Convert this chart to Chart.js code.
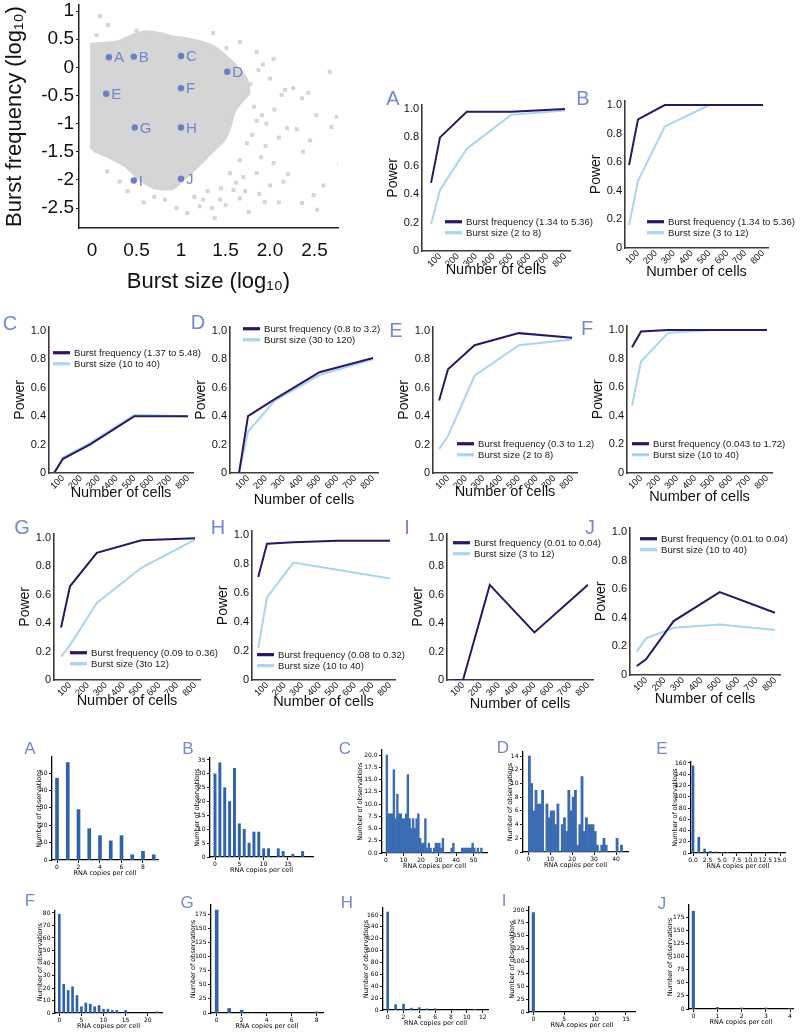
<!DOCTYPE html>
<html>
<head>
<meta charset="utf-8">
<script src="https://cdn.jsdelivr.net/npm/chart.js@4.4.0/dist/chart.umd.min.js"></script>
<style>
  body { margin: 0; background: #fff; }
  #page { position: relative; width: 800px; height: 1033px; overflow: hidden; background: #fff; }
  #page canvas { position: absolute; }
  .tag { position: absolute; color: #7689cf; transform: translate(-50%, -50%); line-height: 1;
         font-family: "Liberation Sans", Arial, sans-serif; }
</style>
</head>
<body>
<div id="page"></div>
<script>
// ---------- scatter: burst size vs burst frequency ----------
const cloudSize = [-0.02, 0.29, 0.46, 0.61, 0.76, 0.91, 1.06, 1.21, 1.36, 1.51, 1.66, 1.74, 1.76, 1.66,
                   1.59, 1.55, 1.48, 1.36, 1.25, 1.14, 1.02, 0.91, 0.72, 0.54, 0.39, 0.20, 0.05, -0.02];
const cloudFreq = [0.41, 0.455, 0.57, 0.63, 0.60, 0.54, 0.51, 0.455, 0.37, 0.19, -0.05, -0.22, -0.46, -0.64,
                   -0.82, -1.06, -1.30, -1.48, -1.66, -1.83, -2.00, -2.15, -2.15, -2.00, -1.77, -1.60, -1.50, -1.41];
const straySize = [0.09, 0.18, 0.05, 0.50, 1.36, 1.85, 2.04, 1.87, 2.67, 2.17, 2.26, 2.13, 2.36, 2.75, 2.52,
                   2.69, 2.19, 1.91, 1.96, 2.37, 2.04, 2.15, 1.94, 1.76, 2.36, 2.49, 2.53, 1.38, 0.58, 0.31,
                   0.17, 1.59, 1.66, 1.44, 1.21, 1.07, 0.95, 2.78, 1.66, 1.74, 1.55, 1.85, 1.51, 1.66,
                   1.80, 1.70, 1.62, 1.90, 2.00, 1.45, 1.30, 1.82, 1.78, 2.10, 1.25, 0.82, 0.70, 2.30, 2.43,
                   1.92, 2.00, 1.85, 2.05, 1.95, 2.20, 1.72, 1.50, 1.35, 1.15, 0.40, 2.60, 2.45, 1.88, 2.10];
const strayFreq = [0.91, 0.75, 0.57, 0.65, 0.61, 0.27, 0.15, -0.05, -0.08, -0.40, -0.37, -0.49, -0.55, -0.88, -0.85,
                   -1.06, -1.08, -0.85, -1.00, -1.50, -1.70, -2.03, -2.39, -2.57, -2.41, -2.27, -2.53, -2.68, -2.40, -2.03,
                   -1.85, -2.18, -2.33, -2.35, -2.47, -2.59, -2.50, -1.70, -1.65, -1.35, -1.88, -1.88, 0.34, 0.45,
                   -1.20, -1.95, -2.05, -1.60, -2.10, -2.15, -2.20, -0.70, -0.30, -1.25, -2.35, -2.35, -2.30, -1.10, -0.45,
                   0.05, -0.20, -0.95, -0.75, -1.40, -1.90, -2.20, -2.45, -2.50, -2.30, -2.20, -2.10, -1.30, -2.25, -2.40];
const geneTags = ['A', 'B', 'C', 'D', 'E', 'F', 'G', 'H', 'I', 'J'];
const geneSize = [0.19, 0.47, 1.00, 1.52, 0.16, 1.00, 0.48, 1.00, 0.47, 1.00];
const geneFreq = [0.18, 0.19, 0.20, -0.08, -0.47, -0.37, -1.07, -1.07, -2.01, -1.98];
const sizeTicks = [0, 0.5, 1, 1.5, 2, 2.5];
const sizeTickLabels = ['0', '0.5', '1', '1.5', '2.0', '2.5'];
const freqTicks = [1, 0.5, 0, -0.5, -1, -1.5, -2, -2.5];
const freqTickLabels = ['1', '0.5', '0', '-0.5', '-1', '-1.5', '-2', '-2.5'];

// ---------- power curves ----------
const cellCounts = [50, 100, 250, 500, 800];
const cellTicks = [100, 200, 300, 400, 500, 600, 700, 800];
const powerTicks = [0, 0.2, 0.4, 0.6, 0.8, 1.0];
const powerTickLabels = ['0', '0.2', '0.4', '0.6', '0.8', '1.0'];

const powerFreqA = [0.48, 0.80, 0.98, 0.98, 1.00];
const powerSizeA = [0.19, 0.43, 0.72, 0.96, 0.99];
const powerFreqB = [0.58, 0.90, 1.00, 1.00, 1.00];
const powerSizeB = [0.16, 0.47, 0.85, 1.00, 1.00];
const powerFreqC = [0.00, 0.10, 0.20, 0.40, 0.40];
const powerSizeC = [0.00, 0.11, 0.21, 0.41, 0.40];
const powerFreqD = [0.00, 0.40, 0.52, 0.71, 0.81];
const powerSizeD = [0.00, 0.29, 0.51, 0.69, 0.80];
const powerFreqE = [0.51, 0.73, 0.90, 0.985, 0.953];
const powerSizeE = [0.17, 0.26, 0.685, 0.90, 0.94];
const powerFreqF = [0.88, 0.99, 1.00, 1.00, 1.00];
const powerSizeF = [0.47, 0.78, 0.98, 1.00, 1.00];
const powerFreqG = [0.37, 0.66, 0.895, 0.984, 0.998];
const powerSizeG = [0.164, 0.246, 0.543, 0.79, 0.988];
const powerFreqH = [0.71, 0.94, 0.95, 0.96, 0.96];
const powerSizeH = [0.22, 0.57, 0.81, 0.76, 0.70];
const powerFreqI = [0.00, 0.00, 0.67, 0.335, 0.67];
const powerSizeI = [null, null, null, null, null];
const powerFreqJ = [0.063, 0.11, 0.377, 0.58, 0.435];
const powerSizeJ = [0.163, 0.256, 0.33, 0.353, 0.314];

const freqRanges = ['1.34 to 5.36', '1.34 to 5.36', '1.37 to 5.48', '0.8 to 3.2', '0.3 to 1.2',
                    '0.043 to 1.72', '0.09 to 0.36', '0.08 to 0.32', '0.01 to 0.04', '0.01 to 0.04'];
const sizeRanges = ['2 to 8', '3 to 12', '10 to 40', '30 to 120', '2 to 8',
                    '10 to 40', '3to 12', '10 to 40', '3 to 12', '10 to 40'];

// ---------- RNA copy histograms ----------
const copiesA = [0, 1, 2, 3, 4, 5, 6, 7, 8, 9];
const countsA = [47, 56, 29, 18, 14, 11, 14, 3, 5, 3];
const copiesB = [0, 1, 2, 3, 4, 5, 6, 7, 8, 9, 10, 11, 13, 14, 16, 18];
const countsB = [30, 34, 25, 20, 32, 12, 10, 5, 9, 9, 3, 3, 3, 2, 1, 2];
const binsC = [0, 1, 2, 3, 4, 5, 6, 7, 8, 9, 10, 11, 12, 13, 14, 15, 16, 17, 18, 19, 20, 21, 22, 23, 24, 25, 26, 27,
               28, 29, 30, 31, 32, 33, 34, 35, 36, 37, 38, 39, 40, 41, 42, 43, 44, 45, 46, 47, 48, 49, 50, 51, 52, 53, 54];
const countsC = [20, 8, 8, 8, 17, 7, 12, 8, 8, 7, 7, 8, 16, 7, 5, 7, 5, 7, 8, 3, 2, 2, 7, 1, 2, 1, 0, 1,
                 2, 2, 2, 1, 3, 0, 0, 0, 0, 1, 2, 0, 0, 0, 0, 1, 1, 1, 1, 1, 1, 2, 1, 0, 1, 0, 1];
const binsD = [0, 1, 2, 3, 4, 5, 6, 7, 8, 9, 10, 11, 12, 13, 14, 15, 16, 17, 18, 19, 20, 21,
               22, 23, 24, 25, 26, 27, 28, 29, 30, 31, 32, 33, 34, 35, 36, 37, 38, 39, 40, 41, 42];
const countsD = [14, 10, 6, 9, 7, 7, 9, 0, 7, 5, 6, 6, 4, 7, 0, 4, 5, 3, 9, 6, 8, 9,
                 1, 4, 11, 3, 5, 4, 4, 4, 3, 1, 0, 1, 2, 1, 0, 0, 0, 0, 2, 0, 1];
const copiesE = [0, 1, 2, 3, 4, 5, 6, 15];
const countsE = [155, 28, 7, 3, 2, 1, 1, 1];
const copiesF = [0, 1, 2, 3, 4, 5, 6, 7, 8, 9, 10, 11, 12, 13, 15, 22];
const countsF = [79, 23, 18, 21, 14, 5, 8, 7, 5, 6, 3, 3, 2, 2, 2, 1];
const copiesG = [0, 1, 2, 8];
const countsG = [182, 8, 5, 2];
const copiesH = [0, 1, 2, 3, 4, 5, 6, 11];
const countsH = [165, 9, 10, 3, 4, 2, 2, 1];
const copiesI = [0];
const countsI = [195];
const copiesJ = [0, 1, 2, 3, 4];
const countsJ = [186, 3, 2, 2, 1];

const histXTicks = {
  A: [0, 2, 4, 6, 8], B: [0, 5, 10, 15], C: [0, 10, 20, 30, 40, 50], D: [0, 10, 20, 30, 40],
  E: [0, 2.5, 5, 7.5, 10, 12.5, 15], F: [0, 5, 10, 15, 20], G: [0, 2, 4, 6, 8],
  H: [0, 2, 4, 6, 8, 10, 12], I: [0, 5, 10, 15], J: [0, 1, 2, 3, 4]
};
const histYTicks = {
  A: [0, 10, 20, 30, 40, 50], B: [0, 5, 10, 15, 20, 25, 30, 35],
  C: [0, 2.5, 5, 7.5, 10, 12.5, 15, 17.5, 20], D: [0, 2, 4, 6, 8, 10, 12, 14],
  E: [0, 20, 40, 60, 80, 100, 120, 140, 160], F: [0, 10, 20, 30, 40, 50, 60, 70, 80],
  G: [0, 25, 50, 75, 100, 125, 150, 175], H: [0, 20, 40, 60, 80, 100, 120, 140, 160],
  I: [0, 25, 50, 75, 100, 125, 150, 175, 200], J: [0, 25, 50, 75, 100, 125, 150, 175]
};
const oneDecimalX = ['E'];
const oneDecimalY = ['C'];

// ---------- layout (page pixels) ----------
const FONT = '"Liberation Sans", Arial, Helvetica, sans-serif';
const HFONT = '"DejaVu Sans", Verdana, sans-serif';
const DARK = '#2b1862';
const LIGHT = '#abd5ee';
const BAR = '#2f62ad';

// tag, axis x, y of 1.0, x of 800, y of 0, x of 100, key dx, key dy, title gap
const powerLayout = [
  ['A', 422, 109, 565, 251, 440, 23, 117, 19],
  ['B', 625, 105, 763, 248, 638, 22, 121, 24],
  ['C', 49, 331, 188, 473, 63, 4, 26, 20],
  ['D', 230, 331, 373, 473, 248, 13, 2, 27],
  ['E', 433, 331, 572, 473, 448, 24, 117, 19],
  ['F', 627, 330, 767, 473, 641, 5, 118, 24],
  ['G', 54, 538, 195, 680, 70, 16, 119, 21],
  ['H', 252, 535, 390, 680, 267, 5, 124, 22],
  ['I', 447, 538, 588, 680, 463, 6, 9, 24],
  ['J', 630, 532, 775, 675, 646, 10, 11, 24]
];
// tag, left, top, right, bottom, px of x=0, x ref, px of x ref, y ref, px of y ref, title offset, bar px
const histLayout = [
  ['A', 52, 757, 158, 860, 57, 8, 143, 50, 773, 13.4, 3],
  ['B', 210, 758, 313, 857, 215, 15, 288, 35, 760, 13.3, 2.3],
  ['C', 382, 750, 487, 853, 386, 50, 473.5, 20, 755, 22, 0],
  ['D', 523, 752, 628, 852, 528.3, 40, 616, 14, 756, 13.3, 0],
  ['E', 691, 762, 785, 853, 693, 15, 780, 160, 763, 15.7, 2],
  ['F', 55, 911, 162, 1013, 59.3, 20, 147.7, 80, 913, 15, 2],
  ['G', 211, 905, 323, 1013, 216.7, 8, 316.7, 175, 914, 18.3, 3],
  ['H', 383, 908, 488, 1010, 387.7, 12, 482.7, 160, 915, 16.7, 2],
  ['I', 529, 907, 635, 1012, 533.3, 15, 626, 200, 910, 17.6, 2.5],
  ['J', 689, 905, 793, 1009, 693.3, 4, 790, 175, 917, 19, 2.5]
];
const powerTagPos = [[393, 98], [583, 98], [10, 323], [198, 322], [396, 330], [587, 328],
                     [22, 527], [218, 527], [407, 527], [590, 527]];
const histTagPos = [[30, 748], [188, 748], [345, 748], [503, 747], [662, 748],
                    [30, 900], [187, 902], [347, 902], [504, 900], [662, 903]];

const page = document.getElementById('page');

Chart.defaults.font.family = FONT;
Chart.defaults.color = '#111';
Chart.defaults.animation = false;
Chart.defaults.plugins.legend.display = false;
Chart.defaults.plugins.tooltip.enabled = false;

// little two-line key drawn inside the plot area
const lineKey = {
  id: 'lineKey',
  afterDraw(chart, args, opts) {
    if (!opts || opts.dx === undefined) return;
    const { ctx, chartArea } = chart;
    ctx.save();
    ctx.font = '9.6px ' + FONT;
    ctx.textBaseline = 'middle';
    chart.data.datasets.forEach((ds, i) => {
      const x = chartArea.left + opts.dx;
      const y = chartArea.top + opts.dy + i * 11;
      ctx.strokeStyle = ds.borderColor;
      ctx.lineWidth = 3.2;
      ctx.beginPath();
      ctx.moveTo(x, y);
      ctx.lineTo(x + 17, y);
      ctx.stroke();
      ctx.fillStyle = '#222';
      ctx.fillText(ds.label, x + 21, y + 0.5);
    });
    ctx.restore();
  }
};

// letters beside the highlighted genes of the scatter
const geneLabels = {
  id: 'geneLabels',
  afterDatasetsDraw(chart, args, opts) {
    if (!opts || !opts.tags) return;
    const { ctx } = chart;
    ctx.save();
    ctx.font = '15px ' + FONT;
    ctx.fillStyle = '#7185c9';
    ctx.textBaseline = 'middle';
    chart.getDatasetMeta(0).data.forEach((pt, i) => {
      ctx.fillText(opts.tags[i], pt.x + 5, pt.y + 1);
    });
    ctx.restore();
  }
};
Chart.register(lineKey, geneLabels);

function mount(box, yW, xH, padR) {
  const padT = 16;
  const left = Math.round(box[0] - yW);
  const top = Math.round(box[1] - padT);
  const w = Math.round(box[2] + padR - left);
  const h = Math.round(box[3] + xH - top);
  const c = document.createElement('canvas');
  c.width = w; c.height = h;
  c.style.left = left + 'px'; c.style.top = top + 'px';
  c.style.width = w + 'px'; c.style.height = h + 'px';
  page.appendChild(c);
  return {
    canvas: c,
    yW: box[0] - left,
    xH: top + h - box[3],
    padding: { top: box[1] - top, right: left + w - box[2], left: 0, bottom: 0 }
  };
}

function addTag(text, pos, size) {
  const d = document.createElement('div');
  d.className = 'tag';
  d.textContent = text;
  d.style.left = pos[0] + 'px';
  d.style.top = pos[1] + 'px';
  d.style.fontSize = size + 'px';
  page.appendChild(d);
}

// ---------- scatter ----------
(function () {
  const box = [79, 5, 338, 228];
  const m = mount(box, 79, 67, 16);
  new Chart(m.canvas, {
    type: 'scatter',
    data: {
      datasets: [
        {
          data: geneSize.map((x, i) => ({ x, y: geneFreq[i] })),
          pointRadius: 3.2, backgroundColor: '#6a7fc5', borderWidth: 0
        },
        {
          data: straySize.map((x, i) => ({ x, y: strayFreq[i] })),
          pointStyle: 'rect', pointRadius: 2.8, backgroundColor: '#d5d5d5', borderWidth: 0
        },
        {
          type: 'line',
          data: cloudSize.map((x, i) => ({ x, y: cloudFreq[i] })),
          borderColor: '#d5d5d5', backgroundColor: '#d5d5d5', borderWidth: 3,
          fill: 'shape', pointRadius: 0, tension: 0.2
        }
      ]
    },
    options: {
      responsive: false,
      devicePixelRatio: 1,
      layout: { padding: m.padding },
      plugins: { geneLabels: { tags: geneTags } },
      scales: {
        x: {
          type: 'linear', min: -0.146, max: 2.764,
          afterBuildTicks: s => { s.ticks = sizeTicks.map(v => ({ value: v })); },
          afterFit: s => { s.height = m.xH; },
          grid: { display: false, drawTicks: false },
          border: { display: true, color: '#222', width: 1.5 },
          ticks: { autoSkip: false, maxRotation: 0, padding: 11, font: { size: 19 },
                   callback: v => sizeTickLabels[sizeTicks.indexOf(v)] },
          title: { display: true, text: 'Burst size (log₁₀)', font: { size: 22 }, padding: 0 }
        },
        y: {
          type: 'linear', min: -2.855, max: 1.107,
          afterBuildTicks: s => { s.ticks = freqTicks.map(v => ({ value: v })); },
          afterFit: s => { s.width = m.yW; },
          grid: { display: true, drawOnChartArea: false, drawTicks: true, tickLength: 3, color: '#222' },
          border: { display: true, color: '#222', width: 1.5 },
          ticks: { autoSkip: false, padding: 2, font: { size: 19 },
                   callback: v => freqTickLabels[freqTicks.indexOf(v)] },
          title: { display: true, text: 'Burst frequency (log₁₀)', font: { size: 22 },
                   padding: { top: 2, bottom: 0 } }
        }
      }
    }
  });
})();

// ---------- power panels ----------
const powerFreq = { A: powerFreqA, B: powerFreqB, C: powerFreqC, D: powerFreqD, E: powerFreqE,
                    F: powerFreqF, G: powerFreqG, H: powerFreqH, I: powerFreqI, J: powerFreqJ };
const powerSize = { A: powerSizeA, B: powerSizeB, C: powerSizeC, D: powerSizeD, E: powerSizeE,
                    F: powerSizeF, G: powerSizeG, H: powerSizeH, I: powerSizeI, J: powerSizeJ };

powerLayout.forEach((row, k) => {
  const [tag, l, t1, x800, b, x100, dx, dy, gap] = row;
  const ppu = (x800 - x100) / 700;
  const xmin = 100 - (x100 - l) / ppu;
  const xmax = 800 + 5 / ppu;
  const top = t1 - 0.03 * (b - t1);
  const m = mount([l, top, x800 + 5, b], 37, gap + 9, 80);
  const axisBorder = { display: true, color: '#3a3a3a', width: 1.6 };
  new Chart(m.canvas, {
    type: 'line',
    data: {
      datasets: [
        {
          label: 'Burst frequency (' + freqRanges[k] + ')',
          data: cellCounts.map((c, i) => ({ x: c, y: powerFreq[tag][i] })),
          borderColor: DARK, borderWidth: 2, pointRadius: 0, tension: 0
        },
        {
          label: 'Burst size (' + sizeRanges[k] + ')',
          data: cellCounts.map((c, i) => ({ x: c, y: powerSize[tag][i] })),
          borderColor: LIGHT, borderWidth: 2, pointRadius: 0, tension: 0
        }
      ]
    },
    options: {
      responsive: false,
      devicePixelRatio: 1,
      layout: { padding: m.padding },
      plugins: { lineKey: { dx, dy } },
      scales: {
        x: {
          type: 'linear', min: xmin, max: xmax,
          afterBuildTicks: s => { s.ticks = cellTicks.map(v => ({ value: v })); },
          afterFit: s => { s.height = m.xH; },
          grid: { display: false, drawTicks: false },
          border: axisBorder,
          ticks: { autoSkip: false, minRotation: 45, maxRotation: 45, padding: 0, font: { size: 9.2 } },
          title: { display: true, text: 'Number of cells', font: { size: 14.5 }, padding: 0 }
        },
        y: {
          type: 'linear', min: 0, max: 1.03,
          afterBuildTicks: s => { s.ticks = powerTicks.map(v => ({ value: v })); },
          afterFit: s => { s.width = m.yW; },
          grid: { display: false, drawTicks: false },
          border: axisBorder,
          ticks: { autoSkip: false, padding: 3, font: { size: 11 },
                   callback: v => powerTickLabels[powerTicks.indexOf(v)] },
          title: { display: true, text: 'Power', font: { size: 14 }, padding: 0 }
        }
      }
    }
  });
  addTag(tag, powerTagPos[k], 20);
});

// ---------- histograms ----------
const histCopies = { A: copiesA, B: copiesB, C: binsC, D: binsD, E: copiesE,
                     F: copiesF, G: copiesG, H: copiesH, I: copiesI, J: copiesJ };
const histCounts = { A: countsA, B: countsB, C: countsC, D: countsD, E: countsE,
                     F: countsF, G: countsG, H: countsH, I: countsI, J: countsJ };

histLayout.forEach((row, k) => {
  const [tag, l, t, r, b, x0, xRef, xRefPx, yRef, yRefPx, yOff, barPx] = row;
  const xppu = (xRefPx - x0) / xRef;
  const yppu = (b - yRefPx) / yRef;
  const binned = barPx === 0;
  const m = mount([l, t, r, b], yOff + 3.9, 17, 16);
  const xt = histXTicks[tag], yt = histYTicks[tag];
  const xl = xt.map(v => oneDecimalX.includes(tag) ? v.toFixed(1) : String(v));
  const yl = yt.map(v => oneDecimalY.includes(tag) ? v.toFixed(1) : String(v));
  const tickGrid = { display: true, drawOnChartArea: false, drawTicks: true, tickLength: 3,
                     color: '#000', lineWidth: 0.9, offset: false };
  const spine = { display: true, color: '#000', width: 1.3 };
  const ds = {
    data: histCopies[tag].map((c, i) => ({ x: binned ? c + 0.5 : c, y: histCounts[tag][i] })),
    backgroundColor: binned ? '#3b6cb2' : BAR,
    borderWidth: 0
  };
  if (binned) { ds.barPercentage = 1; ds.categoryPercentage = 1; }
  else { ds.barThickness = barPx; }
  new Chart(m.canvas, {
    type: 'bar',
    data: { datasets: [ds] },
    options: {
      responsive: false,
      devicePixelRatio: 1,
      layout: { padding: m.padding },
      scales: {
        x: {
          type: 'linear', offset: false, min: (l - x0) / xppu, max: (r - x0) / xppu,
          afterBuildTicks: s => { s.ticks = xt.map(v => ({ value: v })); },
          afterFit: s => { s.height = m.xH; },
          grid: tickGrid, border: spine,
          ticks: { autoSkip: false, maxRotation: 0, padding: 1, font: { family: HFONT, size: 6 }, color: '#000',
                   callback: v => xl[xt.indexOf(v)] },
          title: { display: true, text: 'RNA copies per cell', font: { family: HFONT, size: 6.5 },
                   padding: 0, color: '#000' }
        },
        y: {
          type: 'linear', min: 0, max: (b - t) / yppu,
          afterBuildTicks: s => { s.ticks = yt.map(v => ({ value: v })); },
          afterFit: s => { s.width = m.yW; },
          grid: tickGrid, border: spine,
          ticks: { autoSkip: false, padding: 1.5, font: { family: HFONT, size: 6 }, color: '#000',
                   callback: v => yl[yt.indexOf(v)] },
          title: { display: true, text: 'Number of observations', font: { family: HFONT, size: 6.5 },
                   padding: 0, color: '#000' }
        }
      }
    }
  });
  addTag(tag, histTagPos[k], 17);
});
</script>
</body>
</html>
